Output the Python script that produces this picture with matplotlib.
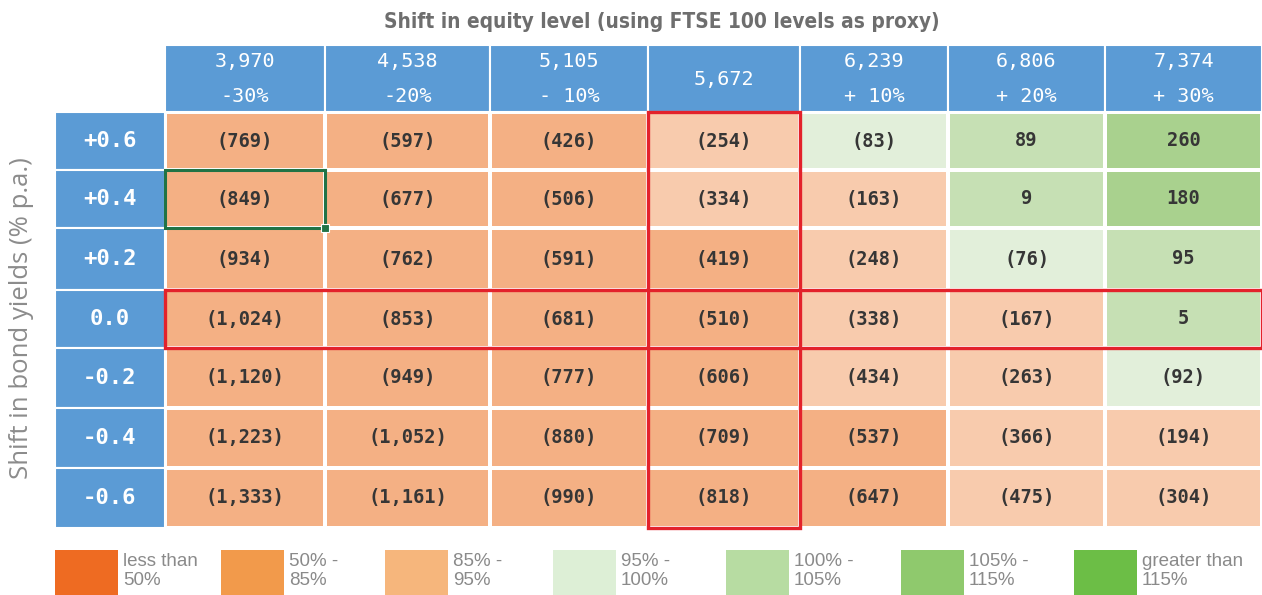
import numpy as np
import matplotlib.pyplot as plt
from matplotlib.colors import ListedColormap
from matplotlib.patches import Rectangle

# data
equity_levels = ["3,970", "4,538", "5,105", "5,672", "6,239", "6,806", "7,374"]
equity_shifts = ["-30%", "-20%", "- 10%", "", "+ 10%", "+ 20%", "+ 30%"]
yield_shifts = ["+0.6", "+0.4", "+0.2", "0.0", "-0.2", "-0.4", "-0.6"]

impact = [
    [-769, -597, -426, -254, -83, 89, 260],
    [-849, -677, -506, -334, -163, 9, 180],
    [-934, -762, -591, -419, -248, -76, 95],
    [-1024, -853, -681, -510, -338, -167, 5],
    [-1120, -949, -777, -606, -434, -263, -92],
    [-1223, -1052, -880, -709, -537, -366, -194],
    [-1333, -1161, -990, -818, -647, -475, -304],
]
# colour band of each cell (0 = 50%-85%, 1 = 85%-95%, 2 = 95%-100%, 3 = 100%-105%, 4 = 105%-115%)
band = [
    [0, 0, 0, 1, 2, 3, 4],
    [0, 0, 0, 1, 1, 3, 4],
    [0, 0, 0, 0, 1, 2, 3],
    [0, 0, 0, 0, 1, 1, 3],
    [0, 0, 0, 0, 1, 1, 2],
    [0, 0, 0, 0, 0, 1, 1],
    [0, 0, 0, 0, 0, 1, 1],
]
legend_labels = ["less than\n50%", "50% -\n85%", "85% -\n95%", "95% -\n100%",
                 "100% -\n105%", "105% -\n115%", "greater than\n115%"]
legend_colors = ["#EE6B22", "#F29A4B", "#F6B67C", "#DDEFD6", "#B7DCA2", "#8FC96D", "#6CBE46"]
cell_colors = ["#F4B084", "#F8CBAD", "#E2EFDA", "#C6E0B4", "#A9D18E"]

# layout (pixels)
W, H = 1262, 595
col_edges = [165, 325, 490, 648, 800, 948, 1105, 1262]
row_edges = [112, 170, 228, 290, 348, 408, 468, 528]
head_top = 45
lab_left = 55
blue = "#5B9BD5"
mono = ["DejaVu Sans Mono"]

fig = plt.figure(figsize=(W / 100, H / 100), dpi=100)
ax = fig.add_axes([0, 0, 1, 1])
ax.set_xlim(0, W)
ax.set_ylim(H, 0)
ax.axis("off")

cmap = ListedColormap(cell_colors)
ax.pcolormesh(col_edges, row_edges, np.array(band), cmap=cmap, vmin=-0.5, vmax=4.5,
              edgecolors="white", linewidth=1.5)

for j, row in enumerate(impact):
    yc = (row_edges[j] + row_edges[j + 1]) / 2
    for i, v in enumerate(row):
        xc = (col_edges[i] + col_edges[i + 1]) / 2
        s = f"({abs(v):,})" if v < 0 else f"{v:,}"
        ax.text(xc, yc, s, ha="center", va="center", fontsize=13.5, fontweight="bold",
                color="#363636", family=mono)

# column headers
for i, (lvl, sh) in enumerate(zip(equity_levels, equity_shifts)):
    x0, x1 = col_edges[i], col_edges[i + 1]
    ax.add_patch(Rectangle((x0, head_top), x1 - x0, row_edges[0] - head_top,
                           fc=blue, ec="white", lw=1.5))
    xc = (x0 + x1) / 2
    if sh:
        ax.text(xc, 62, lvl, ha="center", va="center", fontsize=14.5, color="white", family=mono)
        ax.text(xc, 96, sh, ha="center", va="center", fontsize=14.5, color="white", family=mono)
    else:
        ax.text(xc, 79, lvl, ha="center", va="center", fontsize=14.5, color="white", family=mono)

# row headers
for j, lab in enumerate(yield_shifts):
    y0, y1 = row_edges[j], row_edges[j + 1]
    ax.add_patch(Rectangle((lab_left, y0), col_edges[0] - lab_left, y1 - y0,
                           fc=blue, ec="white", lw=1.5))
    ax.text((lab_left + col_edges[0]) / 2, (y0 + y1) / 2, lab, ha="center", va="center",
            fontsize=16, fontweight="bold", color="white", family=mono)

# highlight boxes
ax.add_patch(Rectangle((col_edges[3], row_edges[0]), col_edges[4] - col_edges[3],
                       row_edges[-1] - row_edges[0], fill=False, ec="#E3222B", lw=2.4, zorder=5))
ax.add_patch(Rectangle((col_edges[0], row_edges[3]), col_edges[-1] - col_edges[0],
                       row_edges[4] - row_edges[3], fill=False, ec="#E3222B", lw=2.4, zorder=5))
ax.add_patch(Rectangle((col_edges[0], row_edges[1]), col_edges[1] - col_edges[0],
                       row_edges[2] - row_edges[1], fill=False, ec="#217346", lw=2.2, zorder=6))
ax.add_patch(Rectangle((col_edges[1] - 4, row_edges[2] - 4), 8, 8, fc="#217346", ec="white",
                       lw=0.8, zorder=7))

# titles
title = ax.text(662, 22, "Shift in equity level (using FTSE 100 levels as proxy)", ha="center",
                va="center", fontsize=16, fontweight="bold", color="#6E6E6E",
                family=["DejaVu Sans"], fontstretch="condensed")
# squeeze the title to the width it has in the original
fig.canvas.draw()
tw = title.get_window_extent().width
title.set_fontsize(16 * 557 / tw)

ax.text(22, 318, "Shift in bond yields (% p.a.)", ha="center", va="center", rotation=90,
        fontsize=18.5, color="#8C8C8C", family=["Open Sans", "DejaVu Sans"])

# legend
leg_x = [55, 221, 385, 553, 726, 901, 1074]
for x, c, lab in zip(leg_x, legend_colors, legend_labels):
    ax.add_patch(Rectangle((x, 550), 63, 50, fc=c, ec="none"))
    ax.text(x + 68, 553, lab, ha="left", va="top", fontsize=13.5, color="#8A8A8A",
            linespacing=1.12, family=["Liberation Sans", "DejaVu Sans"])

fig.savefig("out.png", dpi=100)
